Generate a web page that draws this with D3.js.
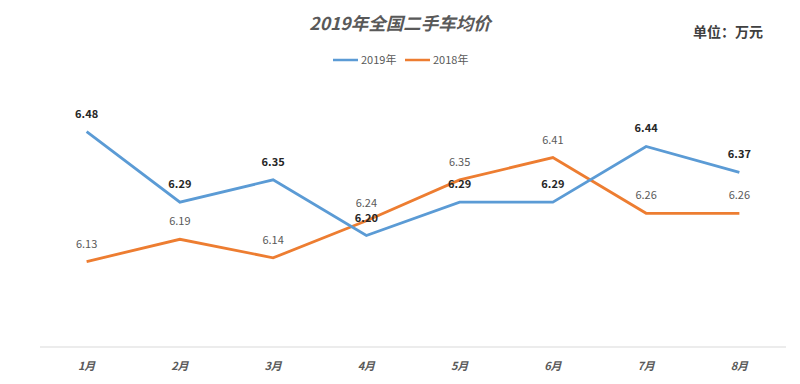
<!DOCTYPE html>
<html>
<head>
<meta charset="utf-8">
<script src="https://cdn.jsdelivr.net/npm/d3@7"></script>
<style>
  body { margin: 0; background: #fff; }
  text { font-family: "Noto Sans CJK SC", "Noto Sans", sans-serif; }
</style>
</head>
<body>
<div id="chart"></div>
<script>
// data
var months = ["1月", "2月", "3月", "4月", "5月", "6月", "7月", "8月"];
var values2019 = [6.48, 6.29, 6.35, 6.20, 6.29, 6.29, 6.44, 6.37];
var values2018 = [6.13, 6.19, 6.14, 6.24, 6.35, 6.41, 6.26, 6.26];
var seriesNames = ["2019年", "2018年"];
var seriesColors = ["#5B9BD5", "#ED7D31"];

var width = 800, height = 384;

var svg = d3.select("#chart")
  .append("svg")
  .attr("width", width)
  .attr("height", height);

// scales
var x = d3.scaleBand()
  .domain(months)
  .range([40, 786]);

var y = d3.scaleLinear()
  .domain([5.9, 6.6])
  .range([347, 87]);

// bottom axis line
svg.append("line")
  .attr("x1", 40).attr("x2", 786)
  .attr("y1", y(5.9)).attr("y2", y(5.9))
  .attr("stroke", "#d9d9d9")
  .attr("stroke-width", 1);

// x labels
svg.append("g").selectAll("text")
  .data(months)
  .enter().append("text")
  .attr("x", function(d) { return x(d) + x.bandwidth() / 2; })
  .attr("y", 370)
  .attr("text-anchor", "middle")
  .attr("font-size", 11)
  .attr("font-style", "italic")
  .attr("font-weight", "bold")
  .attr("fill", "#595959")
  .text(function(d) { return d; });

// title
svg.append("text")
  .attr("x", 400).attr("y", 30)
  .attr("text-anchor", "middle")
  .attr("font-size", 17.5)
  .attr("font-style", "italic")
  .attr("font-weight", "bold")
  .attr("fill", "#595959")
  .text("2019年全国二手车均价");

// unit
svg.append("text")
  .attr("x", 728).attr("y", 37)
  .attr("text-anchor", "middle")
  .attr("font-size", 14)
  .attr("font-weight", "bold")
  .attr("fill", "#404040")
  .text("单位：万元");

// legend
var legendX = [333, 405];
for (var i = 0; i < seriesNames.length; i++) {
  svg.append("line")
    .attr("x1", legendX[i]).attr("x2", legendX[i] + 25)
    .attr("y1", 60).attr("y2", 60)
    .attr("stroke", seriesColors[i])
    .attr("stroke-width", 2.5);
  svg.append("text")
    .attr("x", legendX[i] + 28).attr("y", 64)
    .attr("font-size", 11)
    .attr("fill", "#595959")
    .text(seriesNames[i]);
}

var line = d3.line()
  .x(function(d, i) { return x(months[i]) + x.bandwidth() / 2; })
  .y(function(d) { return y(d); });

// lines
[values2018, values2019].forEach(function(vals, k) {
  svg.append("path")
    .datum(vals)
    .attr("fill", "none")
    .attr("stroke", k == 0 ? seriesColors[1] : seriesColors[0])
    .attr("stroke-width", 2.8)
    .attr("stroke-linejoin", "miter")
    .attr("d", line);
});

// labels 2018
svg.append("g").selectAll("text")
  .data(values2018)
  .enter().append("text")
  .attr("x", function(d, i) { return x(months[i]) + x.bandwidth() / 2; })
  .attr("y", function(d) { return y(d) - 14; })
  .attr("text-anchor", "middle")
  .attr("font-size", 11)
  .attr("fill", "#595959")
  .text(function(d) { return d.toFixed(2); });

// labels 2019
svg.append("g").selectAll("text")
  .data(values2019)
  .enter().append("text")
  .attr("x", function(d, i) { return x(months[i]) + x.bandwidth() / 2; })
  .attr("y", function(d) { return y(d) - 14; })
  .attr("text-anchor", "middle")
  .attr("font-size", 11)
  .attr("font-weight", "bold")
  .attr("fill", "#262626")
  .text(function(d) { return d.toFixed(2); });
</script>
</body>
</html>
